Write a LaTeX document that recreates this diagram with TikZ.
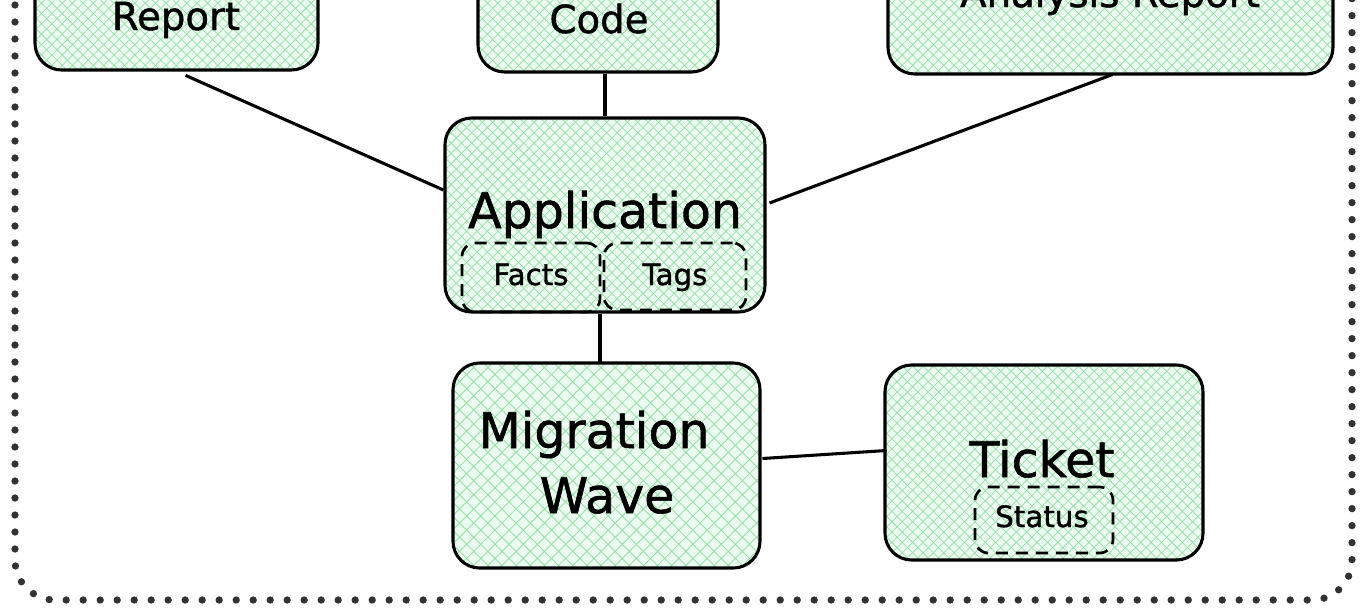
\documentclass[tikz,border=0pt]{standalone}
\usepackage{fontspec}
\setmainfont[FakeBold=1.2]{DejaVu Sans}
\usetikzlibrary{patterns.meta,fit}
\definecolor{bgc}{RGB}{236,251,240}
\definecolor{hatchc}{RGB}{150,224,168}
\definecolor{dotc}{RGB}{50,50,50}
\tikzset{
 box/.style={draw, line width=2.3pt, rounded corners=20pt, inner sep=0pt,
   preaction={fill=bgc},
   pattern={Hatch[angle=45,distance=5.5pt,line width=0.55pt]}, pattern color=hatchc},
 subbox/.style={draw, line width=2pt, rounded corners=10pt, inner sep=0pt,
   dash pattern=on 9pt off 6pt},
 link/.style={line width=2.3pt},
 big/.style={font=\fontsize{36.75}{40}\selectfont},
 mid/.style={font=\fontsize{29}{34}\selectfont},
 small/.style={font=\fontsize{22}{26}\selectfont},
}
\begin{document}
\begin{tikzpicture}[x=0.75pt,y=-0.75pt]
\useasboundingbox (0,0) rectangle (1366,615);
\clip (0,0) rectangle (1366,615);
% outer dotted frame
\draw[dotc, line width=5.5pt, line cap=round, dash pattern=on 0pt off 12.75pt,
      rounded corners=30pt] (15,-80) -- (15,600) -- (1352,600) -- (1352,-80);
% boxes
\node[box, fit={(35,-60) (318,70)}] (rep) {};
\node[box, fit={(478,-60) (718,72)}] (code) {};
\node[box, fit={(888,-60) (1333,74)}] (ana) {};
\node[box, fit={(445,118) (765,312)}] (app) {};
\node[box, pattern={Hatch[angle=45,distance=7.5pt,line width=0.65pt]}, fit={(453,363) (760,568)}] (mig) {};
\node[box, fit={(885,365) (1203,560)}] (tick) {};
\node[subbox, fit={(462,243) (600,312)}] (facts) {};
\node[subbox, fit={(604,243) (746,310)}] (tags) {};
\node[subbox, fit={(975,487) (1113,553)}] (status) {};
% texts
\node[mid, anchor=base] (repT) at (176,30) {Report};
\node[mid, anchor=base] (codeT) at (599,33) {Code};
\node[mid, anchor=base] (anaT) at (1110,7) {Analysis Report};
\node[big, anchor=base] (appT) at (605,228) {Application};
\node[small, anchor=base] (factsT) at (531,285) {Facts};
\node[small, anchor=base] (tagsT) at (675,285) {Tags};
\node[big, anchor=base] (migT) at (594,448) {Migration};
\node[big, anchor=base] (waveT) at (607,513) {Wave};
\node[big, anchor=base] (tickT) at (1042,477) {Ticket};
\node[small, anchor=base] (statusT) at (1042,527) {Status};
% connectors
\draw[link] ([shift={(9,5)}]rep.south) -- ([shift={(0,-25)}]app.west);
\draw[link] (app.north |- code.south) -- (app.north);
\draw[link] ([shift={(2,-1)}]ana.south) -- ([shift={(3,-12)}]app.east);
\draw[link] ([shift={(-5,0)}]app.south) -- ([shift={(-5,0)}]app.south |- mig.north);
\draw[link] ([shift={(2,-7)}]mig.east) -- ([shift={(3,-12)}]tick.west);
\end{tikzpicture}
\end{document}
